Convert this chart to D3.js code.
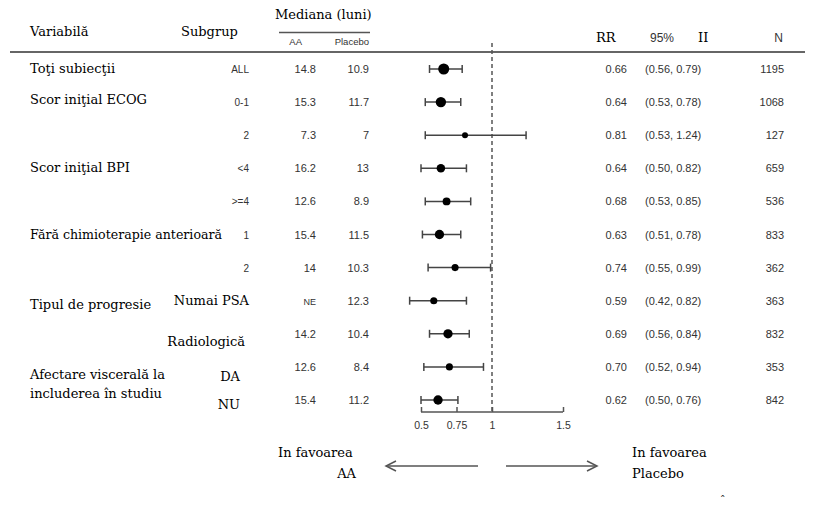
<!DOCTYPE html>
<html><head><meta charset="utf-8">
<script src="https://cdn.jsdelivr.net/npm/d3@7"></script>
<style>body{margin:0;background:#fff}svg{display:block}</style>
</head><body>
<svg id="c" width="832" height="506"></svg>
<script>
const variables = ["Toţi subiecţii","Scor iniţial ECOG","","Scor iniţial BPI","","Fără chimioterapie anterioară","","Tipul de progresie","","Afectare viscerală la\nincluderea în studiu",""];
const subgroups = ["ALL","0-1","2","<4",">=4","1","2","Numai PSA","Radiologică","DA","NU"];
const medianAA = ["14.8","15.3","7.3","16.2","12.6","15.4","14","NE","14.2","12.6","15.4"];
const medianPlacebo = ["10.9","11.7","7","13","8.9","11.5","10.3","12.3","10.4","8.4","11.2"];
const rr = [0.66,0.64,0.81,0.64,0.68,0.63,0.74,0.59,0.69,0.70,0.62];
const ciLow = [0.56,0.53,0.53,0.50,0.53,0.51,0.55,0.42,0.56,0.52,0.50];
const ciHigh = [0.79,0.78,1.24,0.82,0.85,0.78,0.99,0.82,0.84,0.94,0.76];
const nTotal = [1195,1068,127,659,536,833,362,363,832,353,842];
const axisTicks = [0.5,0.75,1,1.5];

const svg = d3.select("#c");
const serif = "'DejaVu Serif','Liberation Serif',serif";
const sans = "'Liberation Sans',Arial,sans-serif";
const FS = 13;
const rows = d3.range(rr.length);
const y = d3.scaleLinear().domain([0, rows.length-1]).range([69, 400]);
const x = d3.scaleLinear().domain([0.5,1.5]).range([421,563]);
const r = d3.scaleLinear().domain([127,1195]).range([3,5.5]);

// header
const hdr = svg.append("g");
hdr.append("text").attr("x",30).attr("y",36).text("Variabilă").attr("font-family",serif).attr("font-size",FS);
hdr.append("text").attr("x",181).attr("y",36).text("Subgrup").attr("font-family",serif).attr("font-size",FS);
hdr.append("text").attr("x",275).attr("y",19).text("Mediana (luni)").attr("font-family",serif).attr("font-size",FS);
hdr.append("line").attr("x1",279).attr("x2",370).attr("y1",32.5).attr("y2",32.5).attr("stroke","#555").attr("stroke-width",1.5);
hdr.append("text").attr("x",302).attr("y",45).attr("text-anchor","end").text("AA").attr("font-family",sans).attr("font-size",9.5).attr("fill","#333");
hdr.append("text").attr("x",369).attr("y",45).attr("text-anchor","end").text("Placebo").attr("font-family",sans).attr("font-size",9.5).attr("fill","#333");
hdr.append("text").attr("x",596).attr("y",42).text("RR").attr("font-family",serif).attr("font-size",FS);
hdr.append("text").attr("x",650).attr("y",42).text("95%").attr("font-family",sans).attr("font-size",12).attr("fill","#333");
hdr.append("text").attr("x",698).attr("y",42).text("II").attr("font-family",serif).attr("font-size",FS);
hdr.append("text").attr("x",783).attr("y",42).attr("text-anchor","end").text("N").attr("font-family",sans).attr("font-size",12).attr("fill","#333");
svg.append("line").attr("x1",10).attr("x2",805).attr("y1",52).attr("y2",52).attr("stroke","#666").attr("stroke-width",2);

// variable labels
rows.forEach(i => {
  if (!variables[i]) return;
  const lines = variables[i].split("\n");
  const t = svg.append("text").attr("font-family",serif).attr("font-size",FS)
    .attr("x",30).attr("y", y(i) + (i===9 ? 12 : (i===1 ? 2 : (i===7 ? 8 : 4))));
  if (i===5) t.attr("textLength",192).attr("lengthAdjust","spacingAndGlyphs");
  lines.forEach((l,k) => t.append("tspan").attr("x",30).attr("dy",k?19:0).text(l));
});

// subgroups
rows.forEach(i => {
  const isSerif = i >= 7;
  const dy = i===8 ? 12 : (i===9 ? 14 : (i===10 ? 9 : 4));
  const xr = i===8 ? 245 : (i>=9 ? 240 : 249);
  svg.append("text").attr("x",xr).attr("y",y(i)+dy).attr("text-anchor","end")
    .attr("font-family", isSerif ? serif : sans).attr("font-size", isSerif ? FS : 10)
    .attr("fill", isSerif ? "#000" : "#333").text(subgroups[i]);
});

// medians and stats
const num = (xx, txt, i, anchor) => svg.append("text").attr("x",xx).attr("y",y(i)+4)
  .attr("text-anchor",anchor||"end").attr("font-family",sans).attr("font-size",11).attr("fill","#333").text(txt);
rows.forEach(i => {
  num(316, medianAA[i], i).attr("font-size", medianAA[i]==="NE"?9:11);
  num(369, medianPlacebo[i], i);
  num(627, rr[i].toFixed(2), i);
  num(645, "(" + ciLow[i].toFixed(2) + ", " + ciHigh[i].toFixed(2) + ")", i, "start");
  num(784, nTotal[i], i);
});

// reference line
svg.append("line").attr("x1",x(1)).attr("x2",x(1)).attr("y1",43).attr("y2",412)
  .attr("stroke","#555").attr("stroke-width",1.5).attr("stroke-dasharray","4,3");

// CIs
const g = svg.append("g").attr("stroke","#444").attr("stroke-width",1.5);
rows.forEach(i => {
  g.append("line").attr("x1",x(ciLow[i])).attr("x2",x(ciHigh[i])).attr("y1",y(i)).attr("y2",y(i));
  g.append("line").attr("x1",x(ciLow[i])).attr("x2",x(ciLow[i])).attr("y1",y(i)-4).attr("y2",y(i)+4);
  g.append("line").attr("x1",x(ciHigh[i])).attr("x2",x(ciHigh[i])).attr("y1",y(i)-4).attr("y2",y(i)+4);
  svg.append("circle").attr("cx",x(rr[i])).attr("cy",y(i)).attr("r",r(nTotal[i])).attr("fill","#000");
});

// axis
const ax = svg.append("g").attr("transform","translate(0,412)")
  .call(d3.axisBottom(x).tickValues(axisTicks).tickFormat(d => String(d)).tickSize(-5).tickPadding(10));
ax.select(".domain").attr("stroke","#555").attr("stroke-width",1.5).attr("d","M"+x(0.5)+",0H"+x(1.5));
ax.selectAll(".tick line").attr("stroke","#555").attr("stroke-width",1.5);
ax.selectAll(".tick text").attr("font-family",sans).attr("font-size",10.5).attr("fill","#333");

// bottom labels and arrows
const bl = (xx,yy,txt,anchor) => svg.append("text").attr("x",xx).attr("y",yy).attr("text-anchor",anchor||"start")
  .attr("font-family",serif).attr("font-size",FS).text(txt);
bl(278,457,"In favoarea");
bl(356,478,"AA","end");
bl(632,457,"In favoarea");
bl(632,478,"Placebo");
const arr = svg.append("g").attr("stroke","#555").attr("stroke-width",1.5).attr("fill","none");
arr.append("line").attr("x1",478).attr("x2",386).attr("y1",466).attr("y2",466);
arr.append("path").attr("d","M396,461L386,466L396,471");
arr.append("line").attr("x1",506).attr("x2",597).attr("y1",466).attr("y2",466);
arr.append("path").attr("d","M587,461L597,466L587,471");
svg.append("text").attr("x",720).attr("y",504).attr("font-family",serif).attr("font-size",11).text("ˆ");
</script>
</body></html>
